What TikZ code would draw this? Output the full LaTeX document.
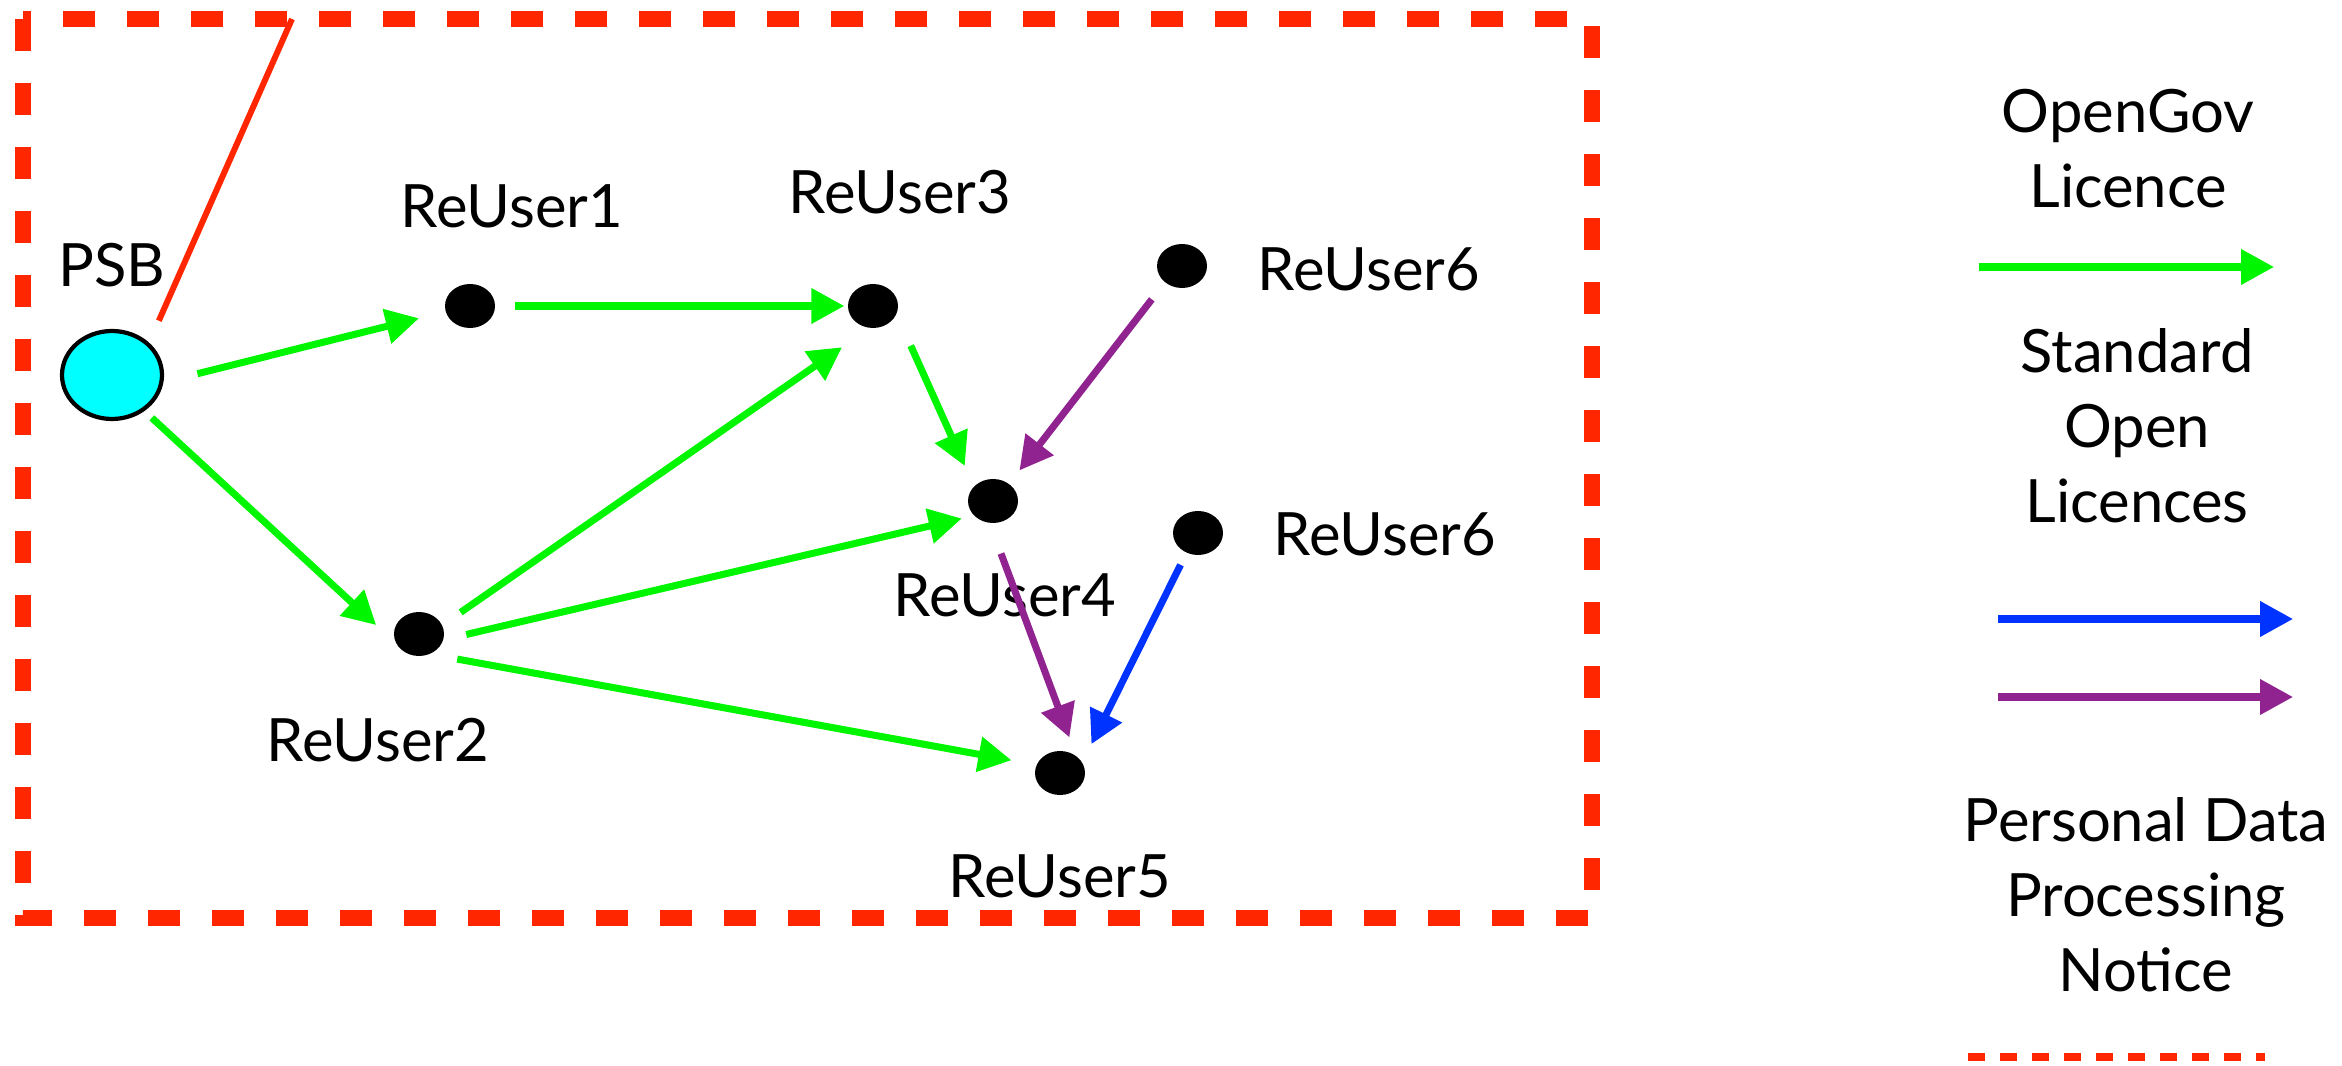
\documentclass[tikz,border=0pt]{standalone}
\usepackage{fontspec}
\setmainfont{Lato}
\usepackage{xcolor}
\usepackage{tikz}
\usetikzlibrary{arrows.meta,shapes.geometric}
\definecolor{oglgreen}{RGB}{0,245,0}
\definecolor{solblue}{RGB}{0,51,255}
\definecolor{solpurple}{RGB}{145,35,145}
\definecolor{pdpred}{RGB}{255,38,0}
\definecolor{psbcyan}{RGB}{0,255,255}

\begin{document}
\begin{tikzpicture}[
  reuser/.style={ellipse, fill=black, minimum width=0.5cm, minimum height=0.44cm, inner sep=0pt},
  psbnode/.style={ellipse, draw=black, line width=1.2pt, fill=psbcyan, minimum width=1cm, minimum height=0.88cm, inner sep=0pt},
  lbl/.style={font=\fontsize{17pt}{21.3pt}\selectfont, inner sep=0pt},
  ogl/.style={oglgreen, line width=2pt, -{Triangle[length=9.4pt,width=9.7pt]}},
  solb/.style={solblue, line width=2pt, -{Triangle[length=9.4pt,width=9.7pt]}},
  solp/.style={solpurple, line width=2pt, -{Triangle[length=9.4pt,width=9.7pt]}},
  zone/.style={pdpred, line width=4.5pt, dash pattern=on 0.32cm off 0.32cm}
]
  \useasboundingbox (0,0) rectangle (23.42,10.65);
  \draw[zone] (0.23,10.46) rectangle (15.92,1.47);
  \coordinate (zonetop) at (2.92,10.46);
  \node[psbnode] (psb) at (1.12,6.90) {};
  \node[reuser] (r1) at (4.70,7.59) {};
  \node[reuser] (r2) at (4.19,4.31) {};
  \node[reuser] (r3) at (8.73,7.59) {};
  \node[reuser] (r4) at (9.93,5.64) {};
  \node[reuser] (r5) at (10.60,2.92) {};
  \node[reuser] (r6a) at (11.82,7.99) {};
  \node[reuser] (r6b) at (11.98,5.32) {};
  \node[lbl, anchor=base] (psblbl) at (1.12,7.78) {PSB};
  \node[lbl, anchor=base] (r1lbl) at (5.12,8.37) {ReUser1};
  \node[lbl, anchor=base] (r2lbl) at (3.78,3.04) {ReUser2};
  \node[lbl, anchor=base] (r3lbl) at (9.00,8.51) {ReUser3};
  \node[lbl, anchor=base] (r4lbl) at (10.05,4.48) {ReUser4};
  \node[lbl, anchor=base] (r5lbl) at (10.60,1.68) {ReUser5};
  \node[lbl, anchor=base west] (r6albl) at (12.57,7.74) {ReUser6};
  \node[lbl, anchor=base west] (r6blbl) at (12.73,5.09) {ReUser6};
  \draw[pdpred, line width=1.7pt, shorten <=0.24cm] (psb.41) -- (zonetop);
  \draw[ogl, shorten <=0.35cm, shorten >=0.27cm] (psb.-8) -- (r1.193);
  \draw[ogl, shorten <=0.10cm, shorten >=0.26cm] (psb.-48) -- (r2.200);
  \draw[ogl, shorten <=0.19cm, shorten >=0.03cm] (r1) -- (r3);
  \draw[ogl, shorten <=0.22cm, shorten >=0.33cm] (r2.21) -- (r3.-100);
  \draw[ogl, shorten <=0.23cm, shorten >=0.12cm] (r2.-13) -- (r4.217);
  \draw[ogl, shorten <=0.27cm, shorten >=0.25cm] (r2.-60) -- (r5.161);
  \draw[ogl, shorten <=0.34cm, shorten >=0.22cm] (r3.-20) -- (r4.142);
  \draw[solp, shorten <=0.21cm, shorten >=0.165cm] (r6a.224) -- (r4.47);
  \draw[solp, shorten <=0.32cm, shorten >=0.19cm] (r4.-98) -- (r5.48);
  \draw[solb, shorten <=0.13cm, shorten >=0.20cm] (r6b.240) -- (r5.26);
  \node[lbl, align=center, anchor=north] (ogltxt) at (21.28,9.76) {OpenGov\\Licence};
  \node[lbl, align=center, anchor=north] (soltxt) at (21.37,7.37) {Standard\\Open\\Licences};
  \node[lbl, align=center, anchor=north] (pdptxt) at (21.46,2.68) {Personal Data\\Processing\\Notice};
  \coordinate (g1) at (19.79,7.98);
  \coordinate (g2) at (22.74,7.98);
  \coordinate (b1) at (19.98,4.46);
  \coordinate (b2) at (22.93,4.46);
  \coordinate (p1) at (19.98,3.68);
  \coordinate (p2) at (22.93,3.68);
  \coordinate (d1) at (19.68,0.08);
  \coordinate (d2) at (22.65,0.08);
  \draw[ogl] (g1) -- (g2);
  \draw[solb] (b1) -- (b2);
  \draw[solp] (p1) -- (p2);
  \draw[pdpred, line width=2.3pt, dash pattern=on 0.17cm off 0.15cm] (d1) -- (d2);
\end{tikzpicture}
\end{document}
